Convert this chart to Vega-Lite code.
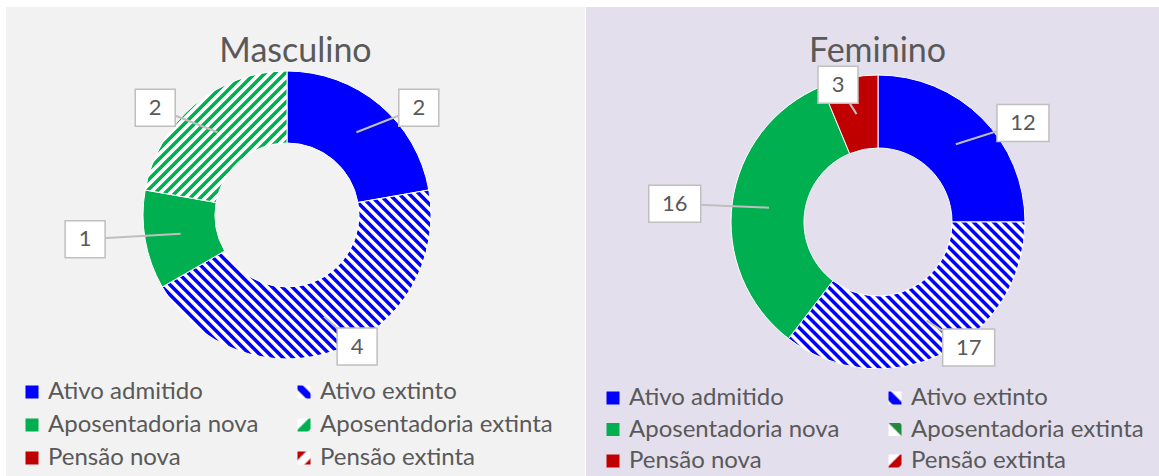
{
"$schema":"https://vega.github.io/schema/vega-lite/v6.json",
"background":"#ffffff",
"padding":{"left":6,"top":7,"right":0,"bottom":0},
"spacing":1,
"config":{"view":{"stroke":null},"font":"Lato"},
"data":{"values":[
{"painel":"Masculino","cat":"Ativo admitido","k":1,"n":2},
{"painel":"Masculino","cat":"Ativo extinto","k":2,"n":4},
{"painel":"Masculino","cat":"Aposentadoria nova","k":3,"n":1},
{"painel":"Masculino","cat":"Aposentadoria extinta","k":4,"n":2},
{"painel":"Masculino","cat":"Pensão nova","k":5,"n":0},
{"painel":"Masculino","cat":"Pensão extinta","k":6,"n":0},
{"painel":"Feminino","cat":"Ativo admitido","k":1,"n":12},
{"painel":"Feminino","cat":"Ativo extinto","k":2,"n":17},
{"painel":"Feminino","cat":"Aposentadoria nova","k":3,"n":16},
{"painel":"Feminino","cat":"Aposentadoria extinta","k":4,"n":0},
{"painel":"Feminino","cat":"Pensão nova","k":5,"n":3},
{"painel":"Feminino","cat":"Pensão extinta","k":6,"n":0}
]},
"resolve":{"scale":{"fill":"independent"},"legend":{"fill":"independent"}},
"hconcat":[
{
"width":579,"height":469,
"view":{"fill":"#f2f2f2","stroke":null},
"title":{"text":"Masculino","fontSize":34,"fontWeight":"normal","color":"#595959","anchor":"middle","offset":-89,"baseline":"alphabetic"},
"transform":[
{"filter":"datum.painel === 'Masculino' && datum.n > 0"},
{"stack":"n","groupby":[],"sort":[{"field":"k","order":"ascending"}],"as":["s0","s1"]},
{"joinaggregate":[{"op":"sum","field":"n","as":"tot"}]},
{"calculate":"2*PI*datum.s0/datum.tot","as":"a0"},
{"calculate":"2*PI*datum.s1/datum.tot","as":"a1"},
{"calculate":"PI*(datum.s0+datum.s1)/datum.tot","as":"am"},
{"calculate":"0","as":"c0"},
{"calculate":"205*sin(datum.am)","as":"bx"},
{"calculate":"140*cos(datum.am)","as":"by"},
{"calculate":"108*sin(datum.am)","as":"tx"},
{"calculate":"108*cos(datum.am)","as":"ty"}
],
"layer":[
{"mark":{"type":"arc","outerRadius":144,"innerRadius":72,"stroke":"#ffffff","strokeWidth":1},
"encoding":{
"x":{"field":"c0","type":"quantitative","scale":{"domain":[-281,298],"nice":false,"zero":false},"axis":null},
"y":{"field":"c0","type":"quantitative","scale":{"domain":[-261,208],"nice":false,"zero":false},"axis":null},
"theta":{"field":"a0","type":"quantitative","scale":null,"stack":null},
"theta2":{"field":"a1"},
"fill":{"field":"cat","type":"nominal",
"scale":{"domain":["Ativo admitido","Aposentadoria nova","Pensão nova","Ativo extinto","Aposentadoria extinta","Pensão extinta"],
"range":["#0000ff","#00b050","#c00000",
{"expr":"{gradient:'linear',x1:0,y1:1,x2:1,y2:0,stops:[{offset:0,color:'#fff'},{offset:0.28,color:'#fff'},{offset:0.38,color:'#00f'},{offset:0.66,color:'#00f'},{offset:0.76,color:'#fff'},{offset:1,color:'#fff'}]}"},
{"expr":"{gradient:'linear',x1:0,y1:0,x2:1,y2:1,stops:[{offset:0,color:'#fff'},{offset:0.38,color:'#fff'},{offset:0.48,color:'#00b050'},{offset:0.88,color:'#00b050'},{offset:0.95,color:'#fff'},{offset:1,color:'#fff'}]}"},
{"expr":"{gradient:'linear',x1:0,y1:0,x2:1,y2:1,stops:[{offset:0,color:'#c00000'},{offset:0.28,color:'#c00000'},{offset:0.38,color:'#fff'},{offset:0.72,color:'#fff'},{offset:0.82,color:'#c00000'},{offset:1,color:'#c00000'}]}"}
]},
"condition":[
{"test":"datum.cat === 'Ativo extinto'","value":{"gradient":"linear","x1":0,"y1":1,"x2":1.3333,"y2":0.1614,"stops":[
{"offset":0,"color":"#00f"},{"offset":0.008,"color":"#00f"},{"offset":0.01,"color":"#fff"},{"offset":0.018,"color":"#fff"},
{"offset":0.02,"color":"#00f"},{"offset":0.028,"color":"#00f"},{"offset":0.03,"color":"#fff"},{"offset":0.038,"color":"#fff"},
{"offset":0.04,"color":"#00f"},{"offset":0.048,"color":"#00f"},{"offset":0.05,"color":"#fff"},{"offset":0.058,"color":"#fff"},
{"offset":0.06,"color":"#00f"},{"offset":0.068,"color":"#00f"},{"offset":0.07,"color":"#fff"},{"offset":0.078,"color":"#fff"},
{"offset":0.08,"color":"#00f"},{"offset":0.088,"color":"#00f"},{"offset":0.09,"color":"#fff"},{"offset":0.098,"color":"#fff"},
{"offset":0.1,"color":"#00f"},{"offset":0.108,"color":"#00f"},{"offset":0.11,"color":"#fff"},{"offset":0.118,"color":"#fff"},
{"offset":0.12,"color":"#00f"},{"offset":0.128,"color":"#00f"},{"offset":0.13,"color":"#fff"},{"offset":0.138,"color":"#fff"},
{"offset":0.14,"color":"#00f"},{"offset":0.148,"color":"#00f"},{"offset":0.15,"color":"#fff"},{"offset":0.158,"color":"#fff"},
{"offset":0.16,"color":"#00f"},{"offset":0.168,"color":"#00f"},{"offset":0.17,"color":"#fff"},{"offset":0.178,"color":"#fff"},
{"offset":0.18,"color":"#00f"},{"offset":0.188,"color":"#00f"},{"offset":0.19,"color":"#fff"},{"offset":0.198,"color":"#fff"},
{"offset":0.2,"color":"#00f"},{"offset":0.208,"color":"#00f"},{"offset":0.21,"color":"#fff"},{"offset":0.218,"color":"#fff"},
{"offset":0.22,"color":"#00f"},{"offset":0.228,"color":"#00f"},{"offset":0.23,"color":"#fff"},{"offset":0.238,"color":"#fff"},
{"offset":0.24,"color":"#00f"},{"offset":0.248,"color":"#00f"},{"offset":0.25,"color":"#fff"},{"offset":0.258,"color":"#fff"},
{"offset":0.26,"color":"#00f"},{"offset":0.268,"color":"#00f"},{"offset":0.27,"color":"#fff"},{"offset":0.278,"color":"#fff"},
{"offset":0.28,"color":"#00f"},{"offset":0.288,"color":"#00f"},{"offset":0.29,"color":"#fff"},{"offset":0.298,"color":"#fff"},
{"offset":0.3,"color":"#00f"},{"offset":0.308,"color":"#00f"},{"offset":0.31,"color":"#fff"},{"offset":0.318,"color":"#fff"},
{"offset":0.32,"color":"#00f"},{"offset":0.328,"color":"#00f"},{"offset":0.33,"color":"#fff"},{"offset":0.338,"color":"#fff"},
{"offset":0.34,"color":"#00f"},{"offset":0.348,"color":"#00f"},{"offset":0.35,"color":"#fff"},{"offset":0.358,"color":"#fff"},
{"offset":0.36,"color":"#00f"},{"offset":0.368,"color":"#00f"},{"offset":0.37,"color":"#fff"},{"offset":0.378,"color":"#fff"},
{"offset":0.38,"color":"#00f"},{"offset":0.388,"color":"#00f"},{"offset":0.39,"color":"#fff"},{"offset":0.398,"color":"#fff"},
{"offset":0.4,"color":"#00f"},{"offset":0.408,"color":"#00f"},{"offset":0.41,"color":"#fff"},{"offset":0.418,"color":"#fff"},
{"offset":0.42,"color":"#00f"},{"offset":0.428,"color":"#00f"},{"offset":0.43,"color":"#fff"},{"offset":0.438,"color":"#fff"},
{"offset":0.44,"color":"#00f"},{"offset":0.448,"color":"#00f"},{"offset":0.45,"color":"#fff"},{"offset":0.458,"color":"#fff"},
{"offset":0.46,"color":"#00f"},{"offset":0.468,"color":"#00f"},{"offset":0.47,"color":"#fff"},{"offset":0.478,"color":"#fff"},
{"offset":0.48,"color":"#00f"},{"offset":0.488,"color":"#00f"},{"offset":0.49,"color":"#fff"},{"offset":0.498,"color":"#fff"},
{"offset":0.5,"color":"#00f"},{"offset":0.508,"color":"#00f"},{"offset":0.51,"color":"#fff"},{"offset":0.518,"color":"#fff"},
{"offset":0.52,"color":"#00f"},{"offset":0.528,"color":"#00f"},{"offset":0.53,"color":"#fff"},{"offset":0.538,"color":"#fff"},
{"offset":0.54,"color":"#00f"},{"offset":0.548,"color":"#00f"},{"offset":0.55,"color":"#fff"},{"offset":0.558,"color":"#fff"},
{"offset":0.56,"color":"#00f"},{"offset":0.568,"color":"#00f"},{"offset":0.57,"color":"#fff"},{"offset":0.578,"color":"#fff"},
{"offset":0.58,"color":"#00f"},{"offset":0.588,"color":"#00f"},{"offset":0.59,"color":"#fff"},{"offset":0.598,"color":"#fff"},
{"offset":0.6,"color":"#00f"},{"offset":0.608,"color":"#00f"},{"offset":0.61,"color":"#fff"},{"offset":0.618,"color":"#fff"},
{"offset":0.62,"color":"#00f"},{"offset":0.628,"color":"#00f"},{"offset":0.63,"color":"#fff"},{"offset":0.638,"color":"#fff"},
{"offset":0.64,"color":"#00f"},{"offset":0.648,"color":"#00f"},{"offset":0.65,"color":"#fff"},{"offset":0.658,"color":"#fff"},
{"offset":0.66,"color":"#00f"},{"offset":0.668,"color":"#00f"},{"offset":0.67,"color":"#fff"},{"offset":0.678,"color":"#fff"},
{"offset":0.68,"color":"#00f"},{"offset":0.688,"color":"#00f"},{"offset":0.69,"color":"#fff"},{"offset":0.698,"color":"#fff"},
{"offset":0.7,"color":"#00f"},{"offset":0.708,"color":"#00f"},{"offset":0.71,"color":"#fff"},{"offset":0.718,"color":"#fff"},
{"offset":0.72,"color":"#00f"},{"offset":0.728,"color":"#00f"},{"offset":0.73,"color":"#fff"},{"offset":0.738,"color":"#fff"},
{"offset":0.74,"color":"#00f"},{"offset":0.748,"color":"#00f"},{"offset":0.75,"color":"#fff"},{"offset":0.758,"color":"#fff"},
{"offset":0.76,"color":"#00f"},{"offset":0.768,"color":"#00f"},{"offset":0.77,"color":"#fff"},{"offset":0.778,"color":"#fff"},
{"offset":0.78,"color":"#00f"},{"offset":0.788,"color":"#00f"},{"offset":0.79,"color":"#fff"},{"offset":0.798,"color":"#fff"},
{"offset":0.8,"color":"#00f"},{"offset":0.808,"color":"#00f"},{"offset":0.81,"color":"#fff"},{"offset":0.818,"color":"#fff"},
{"offset":0.82,"color":"#00f"},{"offset":0.828,"color":"#00f"},{"offset":0.83,"color":"#fff"},{"offset":0.838,"color":"#fff"},
{"offset":0.84,"color":"#00f"},{"offset":0.848,"color":"#00f"},{"offset":0.85,"color":"#fff"},{"offset":0.858,"color":"#fff"},
{"offset":0.86,"color":"#00f"},{"offset":0.868,"color":"#00f"},{"offset":0.87,"color":"#fff"},{"offset":0.878,"color":"#fff"}
]}},
{"test":"datum.cat === 'Aposentadoria extinta'","value":{"gradient":"linear","x1":0,"y1":0,"x2":1.8958,"y2":1.7581,"stops":[
{"offset":0,"color":"#00b050"},{"offset":0.008,"color":"#00b050"},{"offset":0.01,"color":"#fff"},{"offset":0.018,"color":"#fff"},
{"offset":0.02,"color":"#00b050"},{"offset":0.028,"color":"#00b050"},{"offset":0.03,"color":"#fff"},{"offset":0.038,"color":"#fff"},
{"offset":0.04,"color":"#00b050"},{"offset":0.048,"color":"#00b050"},{"offset":0.05,"color":"#fff"},{"offset":0.058,"color":"#fff"},
{"offset":0.06,"color":"#00b050"},{"offset":0.068,"color":"#00b050"},{"offset":0.07,"color":"#fff"},{"offset":0.078,"color":"#fff"},
{"offset":0.08,"color":"#00b050"},{"offset":0.088,"color":"#00b050"},{"offset":0.09,"color":"#fff"},{"offset":0.098,"color":"#fff"},
{"offset":0.1,"color":"#00b050"},{"offset":0.108,"color":"#00b050"},{"offset":0.11,"color":"#fff"},{"offset":0.118,"color":"#fff"},
{"offset":0.12,"color":"#00b050"},{"offset":0.128,"color":"#00b050"},{"offset":0.13,"color":"#fff"},{"offset":0.138,"color":"#fff"},
{"offset":0.14,"color":"#00b050"},{"offset":0.148,"color":"#00b050"},{"offset":0.15,"color":"#fff"},{"offset":0.158,"color":"#fff"},
{"offset":0.16,"color":"#00b050"},{"offset":0.168,"color":"#00b050"},{"offset":0.17,"color":"#fff"},{"offset":0.178,"color":"#fff"},
{"offset":0.18,"color":"#00b050"},{"offset":0.188,"color":"#00b050"},{"offset":0.19,"color":"#fff"},{"offset":0.198,"color":"#fff"},
{"offset":0.2,"color":"#00b050"},{"offset":0.208,"color":"#00b050"},{"offset":0.21,"color":"#fff"},{"offset":0.218,"color":"#fff"},
{"offset":0.22,"color":"#00b050"},{"offset":0.228,"color":"#00b050"},{"offset":0.23,"color":"#fff"},{"offset":0.238,"color":"#fff"},
{"offset":0.24,"color":"#00b050"},{"offset":0.248,"color":"#00b050"},{"offset":0.25,"color":"#fff"},{"offset":0.258,"color":"#fff"},
{"offset":0.26,"color":"#00b050"},{"offset":0.268,"color":"#00b050"},{"offset":0.27,"color":"#fff"},{"offset":0.278,"color":"#fff"},
{"offset":0.28,"color":"#00b050"},{"offset":0.288,"color":"#00b050"},{"offset":0.29,"color":"#fff"},{"offset":0.298,"color":"#fff"},
{"offset":0.3,"color":"#00b050"},{"offset":0.308,"color":"#00b050"},{"offset":0.31,"color":"#fff"},{"offset":0.318,"color":"#fff"},
{"offset":0.32,"color":"#00b050"},{"offset":0.328,"color":"#00b050"},{"offset":0.33,"color":"#fff"},{"offset":0.338,"color":"#fff"},
{"offset":0.34,"color":"#00b050"},{"offset":0.348,"color":"#00b050"},{"offset":0.35,"color":"#fff"},{"offset":0.358,"color":"#fff"},
{"offset":0.36,"color":"#00b050"},{"offset":0.368,"color":"#00b050"},{"offset":0.37,"color":"#fff"},{"offset":0.378,"color":"#fff"},
{"offset":0.38,"color":"#00b050"},{"offset":0.388,"color":"#00b050"},{"offset":0.39,"color":"#fff"},{"offset":0.398,"color":"#fff"},
{"offset":0.4,"color":"#00b050"},{"offset":0.408,"color":"#00b050"},{"offset":0.41,"color":"#fff"},{"offset":0.418,"color":"#fff"},
{"offset":0.42,"color":"#00b050"},{"offset":0.428,"color":"#00b050"},{"offset":0.43,"color":"#fff"},{"offset":0.438,"color":"#fff"},
{"offset":0.44,"color":"#00b050"},{"offset":0.448,"color":"#00b050"},{"offset":0.45,"color":"#fff"},{"offset":0.458,"color":"#fff"},
{"offset":0.46,"color":"#00b050"},{"offset":0.468,"color":"#00b050"},{"offset":0.47,"color":"#fff"},{"offset":0.478,"color":"#fff"},
{"offset":0.48,"color":"#00b050"},{"offset":0.488,"color":"#00b050"},{"offset":0.49,"color":"#fff"},{"offset":0.498,"color":"#fff"},
{"offset":0.5,"color":"#00b050"},{"offset":0.508,"color":"#00b050"},{"offset":0.51,"color":"#fff"},{"offset":0.518,"color":"#fff"},
{"offset":0.52,"color":"#00b050"},{"offset":0.528,"color":"#00b050"},{"offset":0.53,"color":"#fff"},{"offset":0.538,"color":"#fff"},
{"offset":0.54,"color":"#00b050"},{"offset":0.548,"color":"#00b050"},{"offset":0.55,"color":"#fff"},{"offset":0.558,"color":"#fff"}
]}}
],
"legend":{"title":null,"orient":"none","legendX":14,"legendY":373,"columns":2,"columnPadding":33,"rowPadding":9,"symbolType":"square","symbolSize":169,"symbolStrokeWidth":0,"labelFontSize":24,"labelColor":"#595959","labelLimit":500,"labelOffset":4,"padding":0}
}}},
{"mark":{"type":"rule","color":"#bfbfbf","strokeWidth":2},
"encoding":{
"x":{"field":"tx","type":"quantitative","scale":{"domain":[-281,298],"nice":false,"zero":false},"axis":null},
"y":{"field":"ty","type":"quantitative","scale":{"domain":[-261,208],"nice":false,"zero":false},"axis":null},
"x2":{"field":"bx"},"y2":{"field":"by"}}},
{"mark":{"type":"point","filled":true,"fill":"#ffffff","stroke":"#bfbfbf","strokeWidth":1.5,"opacity":1},
"encoding":{
"x":{"field":"bx","type":"quantitative","scale":{"domain":[-281,298],"nice":false,"zero":false},"axis":null},
"y":{"field":"by","type":"quantitative","scale":{"domain":[-261,208],"nice":false,"zero":false},"axis":null},
"shape":{"condition":{"test":"datum.n >= 10","value":"M-1,-0.7115H1V0.7115H-1Z"},"value":"M-1,-0.925H1V0.925H-1Z"},
"size":{"condition":{"test":"datum.n >= 10","value":2704},"value":1600}}},
{"mark":{"type":"text","fontSize":22,"color":"#595959"},
"encoding":{
"x":{"field":"bx","type":"quantitative","scale":{"domain":[-281,298],"nice":false,"zero":false},"axis":null},
"y":{"field":"by","type":"quantitative","scale":{"domain":[-261,208],"nice":false,"zero":false},"axis":null},
"text":{"field":"n","type":"quantitative"}}}
]
},
{
"width":573,"height":469,
"view":{"fill":"#e4dfec","stroke":null},
"title":{"text":"Feminino","fontSize":34,"fontWeight":"normal","color":"#595959","anchor":"middle","offset":-89,"baseline":"alphabetic","dx":5},
"transform":[
{"filter":"datum.painel === 'Feminino' && datum.n > 0"},
{"stack":"n","groupby":[],"sort":[{"field":"k","order":"ascending"}],"as":["s0","s1"]},
{"joinaggregate":[{"op":"sum","field":"n","as":"tot"}]},
{"calculate":"2*PI*datum.s0/datum.tot","as":"a0"},
{"calculate":"2*PI*datum.s1/datum.tot","as":"a1"},
{"calculate":"PI*(datum.s0+datum.s1)/datum.tot","as":"am"},
{"calculate":"0","as":"c0"},
{"calculate":"205*sin(datum.am)","as":"bx"},
{"calculate":"140*cos(datum.am)","as":"by"},
{"calculate":"110*sin(datum.am)","as":"tx"},
{"calculate":"110*cos(datum.am)","as":"ty"}
],
"layer":[
{"mark":{"type":"arc","outerRadius":147,"innerRadius":74,"stroke":"#ffffff","strokeWidth":1},
"encoding":{
"x":{"field":"c0","type":"quantitative","scale":{"domain":[-292,281],"nice":false,"zero":false},"axis":null},
"y":{"field":"c0","type":"quantitative","scale":{"domain":[-254,215],"nice":false,"zero":false},"axis":null},
"theta":{"field":"a0","type":"quantitative","scale":null,"stack":null},
"theta2":{"field":"a1"},
"fill":{"field":"cat","type":"nominal",
"scale":{"domain":["Ativo admitido","Aposentadoria nova","Pensão nova","Ativo extinto","Aposentadoria extinta","Pensão extinta"],
"range":["#0000ff","#00b050","#c00000",
{"expr":"{gradient:'linear',x1:0,y1:1,x2:1,y2:0,stops:[{offset:0,color:'#fff'},{offset:0.1,color:'#fff'},{offset:0.2,color:'#00f'},{offset:0.55,color:'#00f'},{offset:0.65,color:'#fff'},{offset:1,color:'#fff'}]}"},
{"expr":"{gradient:'linear',x1:0,y1:1,x2:1,y2:0,stops:[{offset:0,color:'#fff'},{offset:0.45,color:'#fff'},{offset:0.55,color:'#218a3a'},{offset:0.9,color:'#218a3a'},{offset:1,color:'#fff'}]}"},
{"expr":"{gradient:'linear',x1:0,y1:0,x2:1,y2:1,stops:[{offset:0,color:'#fff'},{offset:0.4,color:'#fff'},{offset:0.5,color:'#c00000'},{offset:0.85,color:'#c00000'},{offset:0.95,color:'#fff'},{offset:1,color:'#fff'}]}"}
]},
"condition":[
{"test":"datum.cat === 'Ativo extinto'","value":{"gradient":"linear","x1":0,"y1":1,"x2":1.525,"y2":0.0521,"stops":[
{"offset":0,"color":"#00f"},{"offset":0.008,"color":"#00f"},{"offset":0.01,"color":"#fff"},{"offset":0.018,"color":"#fff"},
{"offset":0.02,"color":"#00f"},{"offset":0.028,"color":"#00f"},{"offset":0.03,"color":"#fff"},{"offset":0.038,"color":"#fff"},
{"offset":0.04,"color":"#00f"},{"offset":0.048,"color":"#00f"},{"offset":0.05,"color":"#fff"},{"offset":0.058,"color":"#fff"},
{"offset":0.06,"color":"#00f"},{"offset":0.068,"color":"#00f"},{"offset":0.07,"color":"#fff"},{"offset":0.078,"color":"#fff"},
{"offset":0.08,"color":"#00f"},{"offset":0.088,"color":"#00f"},{"offset":0.09,"color":"#fff"},{"offset":0.098,"color":"#fff"},
{"offset":0.1,"color":"#00f"},{"offset":0.108,"color":"#00f"},{"offset":0.11,"color":"#fff"},{"offset":0.118,"color":"#fff"},
{"offset":0.12,"color":"#00f"},{"offset":0.128,"color":"#00f"},{"offset":0.13,"color":"#fff"},{"offset":0.138,"color":"#fff"},
{"offset":0.14,"color":"#00f"},{"offset":0.148,"color":"#00f"},{"offset":0.15,"color":"#fff"},{"offset":0.158,"color":"#fff"},
{"offset":0.16,"color":"#00f"},{"offset":0.168,"color":"#00f"},{"offset":0.17,"color":"#fff"},{"offset":0.178,"color":"#fff"},
{"offset":0.18,"color":"#00f"},{"offset":0.188,"color":"#00f"},{"offset":0.19,"color":"#fff"},{"offset":0.198,"color":"#fff"},
{"offset":0.2,"color":"#00f"},{"offset":0.208,"color":"#00f"},{"offset":0.21,"color":"#fff"},{"offset":0.218,"color":"#fff"},
{"offset":0.22,"color":"#00f"},{"offset":0.228,"color":"#00f"},{"offset":0.23,"color":"#fff"},{"offset":0.238,"color":"#fff"},
{"offset":0.24,"color":"#00f"},{"offset":0.248,"color":"#00f"},{"offset":0.25,"color":"#fff"},{"offset":0.258,"color":"#fff"},
{"offset":0.26,"color":"#00f"},{"offset":0.268,"color":"#00f"},{"offset":0.27,"color":"#fff"},{"offset":0.278,"color":"#fff"},
{"offset":0.28,"color":"#00f"},{"offset":0.288,"color":"#00f"},{"offset":0.29,"color":"#fff"},{"offset":0.298,"color":"#fff"},
{"offset":0.3,"color":"#00f"},{"offset":0.308,"color":"#00f"},{"offset":0.31,"color":"#fff"},{"offset":0.318,"color":"#fff"},
{"offset":0.32,"color":"#00f"},{"offset":0.328,"color":"#00f"},{"offset":0.33,"color":"#fff"},{"offset":0.338,"color":"#fff"},
{"offset":0.34,"color":"#00f"},{"offset":0.348,"color":"#00f"},{"offset":0.35,"color":"#fff"},{"offset":0.358,"color":"#fff"},
{"offset":0.36,"color":"#00f"},{"offset":0.368,"color":"#00f"},{"offset":0.37,"color":"#fff"},{"offset":0.378,"color":"#fff"},
{"offset":0.38,"color":"#00f"},{"offset":0.388,"color":"#00f"},{"offset":0.39,"color":"#fff"},{"offset":0.398,"color":"#fff"},
{"offset":0.4,"color":"#00f"},{"offset":0.408,"color":"#00f"},{"offset":0.41,"color":"#fff"},{"offset":0.418,"color":"#fff"},
{"offset":0.42,"color":"#00f"},{"offset":0.428,"color":"#00f"},{"offset":0.43,"color":"#fff"},{"offset":0.438,"color":"#fff"},
{"offset":0.44,"color":"#00f"},{"offset":0.448,"color":"#00f"},{"offset":0.45,"color":"#fff"},{"offset":0.458,"color":"#fff"},
{"offset":0.46,"color":"#00f"},{"offset":0.468,"color":"#00f"},{"offset":0.47,"color":"#fff"},{"offset":0.478,"color":"#fff"},
{"offset":0.48,"color":"#00f"},{"offset":0.488,"color":"#00f"},{"offset":0.49,"color":"#fff"},{"offset":0.498,"color":"#fff"},
{"offset":0.5,"color":"#00f"},{"offset":0.508,"color":"#00f"},{"offset":0.51,"color":"#fff"},{"offset":0.518,"color":"#fff"},
{"offset":0.52,"color":"#00f"},{"offset":0.528,"color":"#00f"},{"offset":0.53,"color":"#fff"},{"offset":0.538,"color":"#fff"},
{"offset":0.54,"color":"#00f"},{"offset":0.548,"color":"#00f"},{"offset":0.55,"color":"#fff"},{"offset":0.558,"color":"#fff"},
{"offset":0.56,"color":"#00f"},{"offset":0.568,"color":"#00f"},{"offset":0.57,"color":"#fff"},{"offset":0.578,"color":"#fff"},
{"offset":0.58,"color":"#00f"},{"offset":0.588,"color":"#00f"},{"offset":0.59,"color":"#fff"},{"offset":0.598,"color":"#fff"},
{"offset":0.6,"color":"#00f"},{"offset":0.608,"color":"#00f"},{"offset":0.61,"color":"#fff"},{"offset":0.618,"color":"#fff"},
{"offset":0.62,"color":"#00f"},{"offset":0.628,"color":"#00f"},{"offset":0.63,"color":"#fff"},{"offset":0.638,"color":"#fff"},
{"offset":0.64,"color":"#00f"},{"offset":0.648,"color":"#00f"},{"offset":0.65,"color":"#fff"},{"offset":0.658,"color":"#fff"},
{"offset":0.66,"color":"#00f"},{"offset":0.668,"color":"#00f"},{"offset":0.67,"color":"#fff"},{"offset":0.678,"color":"#fff"},
{"offset":0.68,"color":"#00f"},{"offset":0.688,"color":"#00f"},{"offset":0.69,"color":"#fff"},{"offset":0.698,"color":"#fff"},
{"offset":0.7,"color":"#00f"},{"offset":0.708,"color":"#00f"},{"offset":0.71,"color":"#fff"},{"offset":0.718,"color":"#fff"},
{"offset":0.72,"color":"#00f"},{"offset":0.728,"color":"#00f"},{"offset":0.73,"color":"#fff"},{"offset":0.738,"color":"#fff"},
{"offset":0.74,"color":"#00f"},{"offset":0.748,"color":"#00f"},{"offset":0.75,"color":"#fff"},{"offset":0.758,"color":"#fff"},
{"offset":0.76,"color":"#00f"},{"offset":0.768,"color":"#00f"},{"offset":0.77,"color":"#fff"},{"offset":0.778,"color":"#fff"}
]}}
],
"legend":{"title":null,"orient":"none","legendX":15,"legendY":379,"columns":2,"columnPadding":43,"rowPadding":7.5,"symbolType":"square","symbolSize":169,"symbolStrokeWidth":0,"labelFontSize":24,"labelColor":"#595959","labelLimit":500,"labelOffset":4,"padding":0}
}}},
{"mark":{"type":"rule","color":"#bfbfbf","strokeWidth":2},
"encoding":{
"x":{"field":"tx","type":"quantitative","scale":{"domain":[-292,281],"nice":false,"zero":false},"axis":null},
"y":{"field":"ty","type":"quantitative","scale":{"domain":[-254,215],"nice":false,"zero":false},"axis":null},
"x2":{"field":"bx"},"y2":{"field":"by"}}},
{"mark":{"type":"point","filled":true,"fill":"#ffffff","stroke":"#bfbfbf","strokeWidth":1.5,"opacity":1},
"encoding":{
"x":{"field":"bx","type":"quantitative","scale":{"domain":[-292,281],"nice":false,"zero":false},"axis":null},
"y":{"field":"by","type":"quantitative","scale":{"domain":[-254,215],"nice":false,"zero":false},"axis":null},
"shape":{"condition":{"test":"datum.n >= 10","value":"M-1,-0.7115H1V0.7115H-1Z"},"value":"M-1,-0.925H1V0.925H-1Z"},
"size":{"condition":{"test":"datum.n >= 10","value":2704},"value":1600}}},
{"mark":{"type":"text","fontSize":22,"color":"#595959"},
"encoding":{
"x":{"field":"bx","type":"quantitative","scale":{"domain":[-292,281],"nice":false,"zero":false},"axis":null},
"y":{"field":"by","type":"quantitative","scale":{"domain":[-254,215],"nice":false,"zero":false},"axis":null},
"text":{"field":"n","type":"quantitative"}}}
]
}
]
}
